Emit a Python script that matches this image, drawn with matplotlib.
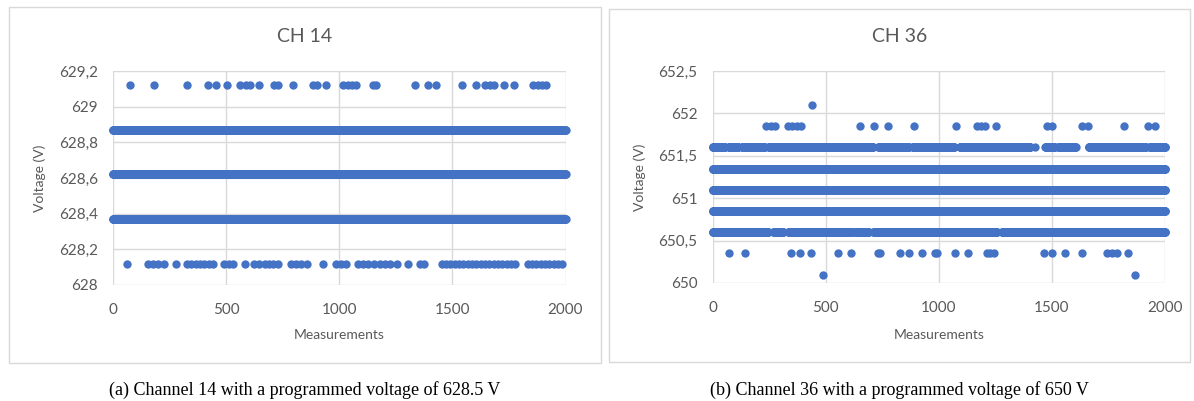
import numpy as np
import matplotlib
matplotlib.use("Agg")
import matplotlib.pyplot as plt
from matplotlib.patches import Rectangle
from matplotlib.ticker import FuncFormatter

# ---- Channel 14 (programmed 628.5 V) ----
ch14_title = "CH 14"
ch14_caption = "(a) Channel 14 with a programmed voltage of 628.5 V"
ch14_ylim = (628.0, 629.2)
ch14_yticks = [628.0, 628.2, 628.4, 628.6, 628.8, 629.0, 629.2]
# Measurements that landed on the sparse outer levels
ch14_high_level = 629.12
ch14_high_idx = [75, 181, 327, 418, 457, 502, 561, 590, 605, 645, 713, 728, 797,
                 885, 900, 940, 1018, 1040, 1055, 1074, 1148, 1161, 1335, 1394,
                 1428, 1541, 1603, 1644, 1666, 1685, 1728, 1774, 1858, 1880,
                 1894, 1912]
ch14_low_level = 628.12
ch14_low_idx = [63, 153, 178, 200, 227, 277, 326, 345, 365, 385, 404, 424, 443,
                492, 513, 532, 584, 625, 647, 670, 690, 709, 731, 787, 808, 831,
                856, 929, 985, 1008, 1030, 1084, 1106, 1128, 1155, 1180, 1202,
                1224, 1254, 1302, 1357, 1376, 1453, 1472, 1491, 1510, 1530,
                1549, 1568, 1587, 1606, 1625, 1645, 1664, 1683, 1702, 1721,
                1740, 1760, 1779, 1833, 1852, 1871, 1890, 1910, 1929, 1948,
                1967, 1986]
# Densely populated levels, given as runs of consecutive measurements
ch14_dense_levels = [628.37, 628.62, 628.87]
ch14_dense_runs = [[(0, 2000)], [(0, 2000)], [(0, 2000)]]

# ---- Channel 36 (programmed 650 V) ----
ch36_title = "CH 36"
ch36_caption = "(b) Channel 36 with a programmed voltage of 650 V"
ch36_ylim = (650.0, 652.5)
ch36_yticks = [650.0, 650.5, 651.0, 651.5, 652.0, 652.5]
ch36_sparse_levels = [652.10, 651.85, 650.35, 650.10]
ch36_sparse_idx = [
    [438],
    [236, 257, 276, 332, 352, 372, 391, 652, 714, 774, 891, 1075, 1168, 1187,
     1205, 1252, 1478, 1500, 1633, 1659, 1817, 1927, 1957],
    [72, 142, 345, 386, 435, 553, 611, 730, 740, 829, 866, 925, 981, 992,
     1072, 1131, 1212, 1227, 1242, 1463, 1500, 1559, 1633, 1743, 1765, 1788,
     1836],
    [489, 1869],
]
ch36_dense_levels = [651.60, 651.35, 651.10, 650.85, 650.60]
ch36_dense_runs = [
    [(0, 54), (71, 113), (130, 230), (247, 708), (733, 867), (884, 1068),
     (1093, 1404), (1425, 1425), (1471, 1512), (1529, 1605), (1663, 1915),
     (1932, 2000)],
    [(0, 2000)],
    [(0, 2000)],
    [(0, 2000)],
    [(0, 246), (268, 312), (335, 460), (467, 615), (630, 689), (711, 1256),
     (1279, 2000)],
]

xticks = [0, 500, 1000, 1500, 2000]
x_label = "Measurements"
y_label = "Voltage (V)"

DOT = "#4472C4"
TXT = "#595959"
GRID = "#D9D9D9"
plt.rcParams["font.family"] = ["Lato", "DejaVu Sans"]

W, H = 1194, 401
fig = plt.figure(figsize=(W / 100, H / 100), dpi=100)


def fx(px):
    return px / W


def fy(py):
    return 1 - py / H


def runs_to_idx(runs):
    return np.concatenate([np.arange(a, b + 1) for a, b in runs])


def panel(box, ax_px, title, caption, ylim, yticks, points, ylabel_x):
    bx0, by0, bx1, by1 = box
    fig.patches.append(Rectangle((fx(bx0), fy(by1)), fx(bx1 - bx0), (by1 - by0) / H,
                                 transform=fig.transFigure, fill=False,
                                 edgecolor=GRID, linewidth=1.0))
    x0, y0, x1, y1 = ax_px
    ax = fig.add_axes([fx(x0), fy(y1), fx(x1 - x0), (y1 - y0) / H])
    for xs, ys in points:
        ax.scatter(xs, ys, s=36, color=DOT, linewidths=0, zorder=3, clip_on=False)
    ax.set_xlim(0, 2000)
    ax.set_ylim(*ylim)
    ax.set_xticks(xticks)
    ax.set_yticks(yticks)
    ax.yaxis.set_major_formatter(FuncFormatter(lambda v, p: f"{v:g}".replace(".", ",")))
    ax.grid(True, color=GRID, linewidth=1.0)
    ax.set_axisbelow(True)
    for s in ax.spines.values():
        s.set_visible(False)
    ax.tick_params(length=0, labelsize=11, labelcolor=TXT)
    ax.tick_params(axis="y", pad=11)
    ax.tick_params(axis="x", pad=13)
    cx = (bx0 + bx1) / 2
    fig.text(fx(cx), fy(36), title, ha="center", va="center", fontsize=14, color=TXT)
    fig.text(fx((x0 + x1) / 2), fy(335), x_label, ha="center", va="center",
             fontsize=10, color=TXT)
    fig.text(fx(ylabel_x), fy((y0 + y1) / 2), y_label, ha="center", va="center",
             rotation=90, fontsize=10, color=TXT)
    fig.text(fx(cx), fy(390), caption, ha="center", va="center", fontsize=13,
             color="black", family=["Liberation Serif", "DejaVu Serif"])
    return ax


pts14 = [(ch14_high_idx, [ch14_high_level] * len(ch14_high_idx)),
         (ch14_low_idx, [ch14_low_level] * len(ch14_low_idx))]
for lvl, runs in zip(ch14_dense_levels, ch14_dense_runs):
    idx = runs_to_idx(runs)
    pts14.append((idx, np.full(len(idx), lvl)))

pts36 = []
for lvl, idx in zip(ch36_sparse_levels, ch36_sparse_idx):
    pts36.append((idx, [lvl] * len(idx)))
for lvl, runs in zip(ch36_dense_levels, ch36_dense_runs):
    idx = runs_to_idx(runs)
    pts36.append((idx, np.full(len(idx), lvl)))

panel((9, 7, 601, 363), (113, 71, 565.5, 285), ch14_title, ch14_caption,
      ch14_ylim, ch14_yticks, pts14, 40)
panel((609, 9, 1190, 362), (712.7, 71, 1165, 283), ch36_title, ch36_caption,
      ch36_ylim, ch36_yticks, pts36, 640)

fig.savefig("out.png", dpi=100, facecolor="white")
